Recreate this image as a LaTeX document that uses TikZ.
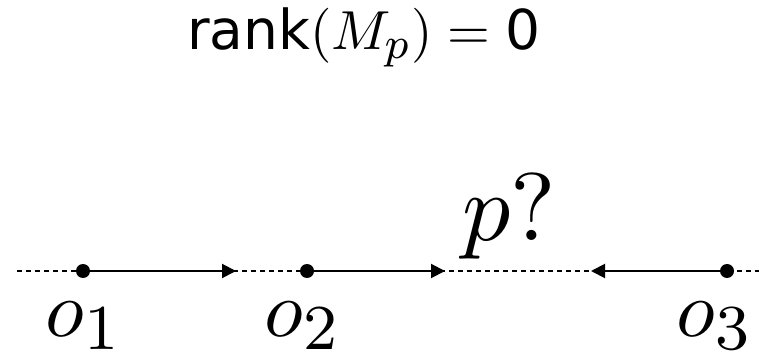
\documentclass[tikz,border=0pt]{standalone}
\usepackage{fontspec}
\setsansfont{DejaVu Sans}
\usetikzlibrary{arrows.meta,positioning}
\DeclareMathSizes{10}{10}{7.6}{5.5}

\begin{document}
\begin{tikzpicture}[x=0.5pt,y=-0.5pt,
  dotpt/.style={circle,fill=black,inner sep=0pt,minimum size=7pt},
  vec/.style={line width=1pt,-{Triangle[length=7pt,width=7pt]}},
  axisline/.style={line width=0.6pt,dash pattern=on 2.5pt off 2pt},
  lbl/.style={font=\normalsize,scale=4,anchor=base,inner sep=0pt}]
\useasboundingbox (0,0) rectangle (759,357);
% the line
\coordinate (left) at (17,271);
\coordinate (right) at (759,271);
\draw[axisline] (left) -- (right);
% observations
\node[dotpt] (o1) at (83,271) {};
\node[dotpt] (o2) at (307,271) {};
\node[dotpt] (o3) at (727,271) {};
\coordinate (t1) at (236,271);
\coordinate (t2) at (445,271);
\coordinate (t3) at (591,271);
\draw[vec] (o1) -- (t1);
\draw[vec] (o2) -- (t2);
\draw[vec] (o3) -- (t3);
% labels
\node[lbl] (lo1) at (84,336) {$o_1$};
\node[lbl] (lo2) at (303,336) {$o_2$};
\node[lbl] (lo3) at (715,336) {$o_3$};
\node[lbl,scale=1.2] (p) at (509,241) {$p?$};
\node[font=\normalsize,scale=2.75,anchor=base,inner sep=0pt] (title) at (364,50)
  {$\mbox{\sffamily rank}(M_p) = \mbox{\sffamily 0}$};
\end{tikzpicture}
\end{document}
